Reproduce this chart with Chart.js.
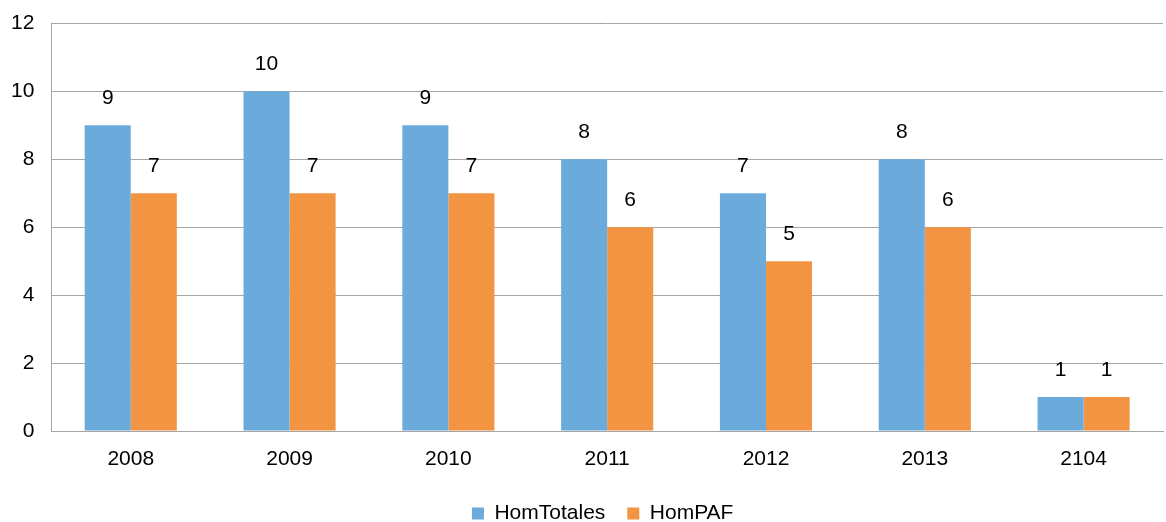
<!DOCTYPE html>
<html>
<head>
<meta charset="utf-8">
<script src="https://cdn.jsdelivr.net/npm/chart.js@4"></script>
<style>
  html, body { margin: 0; padding: 0; background: #fff; }
  #wrap { width: 1166px; height: 522px; }
</style>
</head>
<body>
<div id="wrap"><canvas id="chart" width="1166" height="522"></canvas></div>
<script>
const years = ["2008", "2009", "2010", "2011", "2012", "2013", "2104"];
const homTotales = [9, 10, 9, 8, 7, 8, 1];
const homPAF = [7, 7, 7, 6, 5, 6, 1];
const yTicks = [0, 2, 4, 6, 8, 10, 12];

const FONT = "'Liberation Sans', Arial, sans-serif";

// draw the value above each bar
const valueLabels = {
  id: "valueLabels",
  afterDatasetsDraw(chart) {
    const ctx = chart.ctx;
    ctx.save();
    ctx.font = "21px " + FONT;
    ctx.fillStyle = "#000";
    ctx.textAlign = "center";
    ctx.textBaseline = "middle";
    chart.data.datasets.forEach((ds, i) => {
      chart.getDatasetMeta(i).data.forEach((bar, j) => {
        ctx.fillText(ds.data[j], bar.x, bar.y - 27);
      });
    });
    ctx.restore();
  },
};

// center the legend under the plot area instead of the canvas
const legendShift = {
  id: "legendShift",
  afterLayout(chart) {
    const area = chart.chartArea;
    const dx = (area.left + area.right) / 2 - chart.width / 2;
    chart.legend.left += dx;
    chart.legend.right += dx;
  },
};

new Chart(document.getElementById("chart").getContext("2d"), {
  type: "bar",
  data: {
    labels: years,
    datasets: [
      {
        label: "HomTotales",
        data: homTotales,
        backgroundColor: "#6AABDC",
        barPercentage: 1,
        categoryPercentage: 0.58,
      },
      {
        label: "HomPAF",
        data: homPAF,
        backgroundColor: "#F29441",
        barPercentage: 1,
        categoryPercentage: 0.58,
      },
    ],
  },
  options: {
    responsive: false,
    animation: false,
    layout: { padding: { top: 0, left: -6, right: 3, bottom: -12 } },
    plugins: {
      legend: {
        position: "bottom",
        labels: {
          font: { family: FONT, size: 21 },
          color: "#000",
          boxWidth: 12,
          boxHeight: 12,
          padding: 22,
        },
      },
      tooltip: { enabled: false },
    },
    scales: {
      x: {
        grid: { display: false, drawTicks: false },
        border: { color: "#a6a6a6" },
        ticks: { font: { family: FONT, size: 21 }, color: "#000", padding: 16 },
        afterFit: (axis) => {
          axis.height = 50;
        },
      },
      y: {
        min: 0,
        max: 12,
        afterBuildTicks: (axis) => {
          axis.ticks = yTicks.map((v) => ({ value: v }));
        },
        grid: { color: "#a6a6a6", drawTicks: false },
        border: { color: "#a6a6a6" },
        ticks: {
          font: { family: FONT, size: 21, lineHeight: 0.6 },
          color: "#000",
          padding: 17,
        },
      },
    },
  },
  plugins: [valueLabels, legendShift],
});
</script>
</body>
</html>
